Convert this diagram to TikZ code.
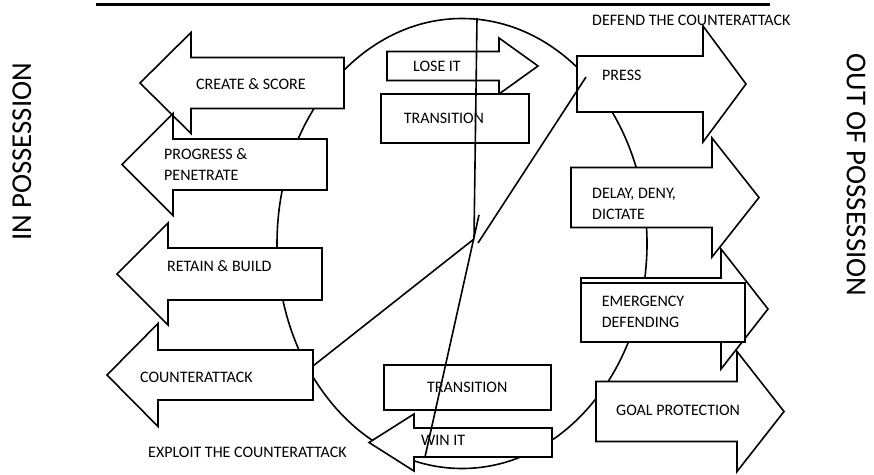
\documentclass[tikz,border=0pt]{standalone}
\usepackage{fontspec}
\setmainfont{Carlito}
\tikzset{
	arrow shape/.style={draw,fill=white,line width=1.6pt,line join=miter},
	trans box/.style={draw,fill=white,line width=1.6pt,inner sep=0pt,anchor=north west,
		font=\fontsize{16}{21}\selectfont},
	label text/.style={inner sep=0pt,anchor=west,align=left,font=\fontsize{16}{21}\selectfont},
	side text/.style={inner sep=0pt,font=\fontsize{28.8}{32}\selectfont},
	link/.style={line width=1.6pt}
}
% tip x, centre y, head back x, shaft end x, shaft half, head half
\newcommand{\larrowshape}[6]{\draw[arrow shape] (#1,#2) -- (#3,#2-#6) -- (#3,#2-#5) -- (#4,#2-#5) -- (#4,#2+#5) -- (#3,#2+#5) -- (#3,#2+#6) -- cycle;}
% shaft start x, centre y, head back x, tip x, shaft half, head half
\newcommand{\rarrowshape}[6]{\draw[arrow shape] (#4,#2) -- (#3,#2-#6) -- (#3,#2-#5) -- (#1,#2-#5) -- (#1,#2+#5) -- (#3,#2+#5) -- (#3,#2+#6) -- cycle;}
\begin{document}
\begin{tikzpicture}[x=1pt,y=-1pt]
\useasboundingbox (0,0) rectangle (874,474);
\draw[line width=3.2pt] (96,4.5) -- (770,4.5);
\draw[link] (462,243.5) ellipse [x radius=185, y radius=225];

\larrowshape{140}{83}{191}{344}{25.5}{50.5}
\larrowshape{122}{164.5}{173}{327}{25.5}{51}
\larrowshape{117}{274}{168}{322}{26}{51}
\larrowshape{107}{375}{158}{313}{25}{51.5}
\larrowshape{369}{442.5}{414}{552}{14.5}{28.5}

\rarrowshape{387}{66}{499}{538}{14.5}{28}
\rarrowshape{577}{84}{703}{746}{28}{58}
\rarrowshape{571}{197.5}{712}{759}{30}{59.5}
\rarrowshape{581}{309}{721}{768}{31}{60}
\rarrowshape{596}{411.5}{737}{784}{30}{60}

\node[trans box,minimum height=49,inner xsep=23,text width=102] (trans1) at (380,93) {TRANSITION};
\node[trans box,minimum width=167,minimum height=45] (trans2) at (383,364) {TRANSITION};
\node[trans box,minimum height=59,inner xsep=21,text width=122,align=left] (emerg) at (580,282) {EMERGENCY\\DEFENDING};

\node[label text] (create) at (196,84) {CREATE \& SCORE};
\node[label text] (progress) at (164,164.5) {PROGRESS \&\\PENETRATE};
\node[label text] (retain) at (167,266) {RETAIN \& BUILD};
\node[label text] (counter) at (140,377) {COUNTERATTACK};
\node[label text] (exploit) at (148,452) {EXPLOIT THE COUNTERATTACK};
\node[label text] (lose) at (413,66) {LOSE IT};
\node[label text] (win) at (421,440) {WIN IT};
\node[label text] (press) at (602,75) {PRESS};
\node[label text] (defend) at (592,20) {DEFEND THE COUNTERATTACK};
\node[label text] (delay) at (592,203.5) {DELAY, DENY,\\DICTATE};
\node[label text] (goal) at (616,410) {GOAL PROTECTION};
\node[side text,rotate=90] (inposs) at (22,152) {IN POSSESSION};
\node[side text,rotate=-90] (outposs) at (856,175) {OUT OF POSSESSION};

\coordinate (lose top) at (477,18);
\coordinate (cross a) at (474,238);
\coordinate (cross b) at (479,215);
\coordinate (win end) at (425,457);
\coordinate (counter end) at (313,366);
\coordinate (cross c) at (474,239);
\coordinate (cross d) at (478,243);
\coordinate (press end) at (586,77);
\draw[link] (lose top) -- (cross a);
\draw[link] (cross b) -- (win end);
\draw[link] (counter end) -- (cross c);
\draw[link] (cross d) -- (press end);
\end{tikzpicture}
\end{document}
